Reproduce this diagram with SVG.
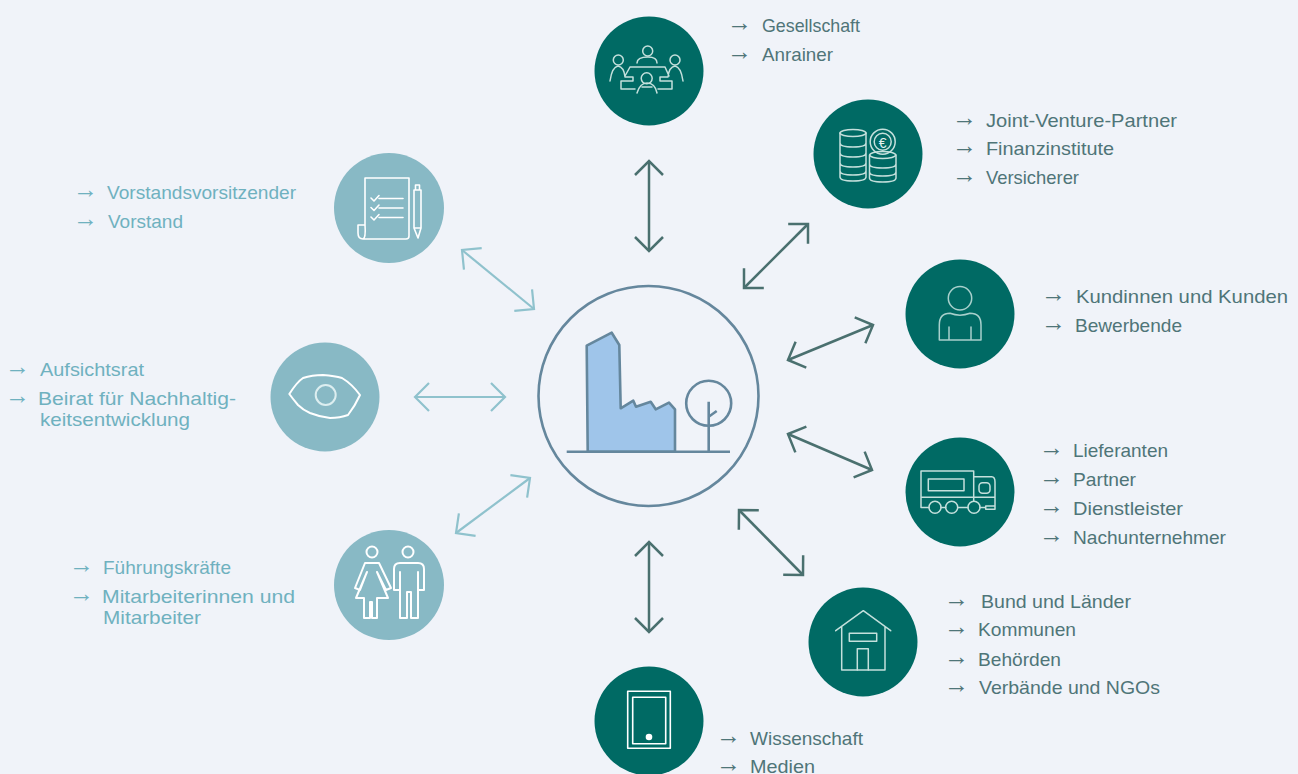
<svg xmlns="http://www.w3.org/2000/svg" width="1298" height="774" viewBox="0 0 1298 774">
<style>
text{font-family:"Liberation Sans",Arial,sans-serif;font-size:18.5px;transform:translateY(.5px)}
text.a{font-size:25px;transform:translateY(-1px)}
.d{fill:#4f7578}.l{fill:#6fb1bf}
.cd{fill:#006a64}.cl{fill:#88b9c5}
.iw,.id{fill:none;stroke-linejoin:round;stroke-linecap:round}
.iw{stroke:#fff;stroke-width:1.6}
.ip{stroke-width:2}
.id{stroke:#c4e0dc;stroke-width:1.5}
.ad{stroke:#4a706f;stroke-width:2.5;fill:none;marker-start:url(#hd);marker-end:url(#hd)}
.al{stroke:#8fc2cd;stroke-width:2.2;fill:none;marker-start:url(#hl);marker-end:url(#hl)}
.f{fill:none;stroke:#65879d;stroke-width:2.6;stroke-linejoin:round}
</style>
<defs>
<marker id="hd" markerUnits="userSpaceOnUse" markerWidth="34" markerHeight="34" viewBox="-17 -17 34 34" refX="0" refY="0" orient="auto-start-reverse"><path d="M-14-14L0 0L-14 14" fill="none" stroke="#4a706f" stroke-width="2.5"/></marker>
<marker id="hl" markerUnits="userSpaceOnUse" markerWidth="34" markerHeight="34" viewBox="-17 -17 34 34" refX="0" refY="0" orient="auto-start-reverse"><path d="M-14-14L0 0L-14 14" fill="none" stroke="#8fc2cd" stroke-width="2.2"/></marker>
</defs>
<rect width="1298" height="774" fill="#f0f3f9"/>
<g id="connectors">
<path class="ad" d="M649 161V251"/>
<path class="ad" d="M649 542V632"/>
<path class="ad" d="M744 288L808 224"/>
<path class="ad" d="M788 360L873 325"/>
<path class="ad" d="M788 434L872 470"/>
<path class="ad" d="M739 510L803 575"/>
<path class="al" d="M456 533L530 478"/>
<path class="al" d="M415 397H505"/>
<path class="al" d="M462 250L534 309"/>
</g>
<g id="center">
<circle cx="648.5" cy="396" r="110" class="f"/>
<path d="M586.7 345.7L611.7 332.7L619.3 345L620.7 408.3L633.3 400.7L636 406.7L650.7 401.7L655.7 409.3L669 402.7L675 409.3V451.7H587.7Z" class="f" style="fill:#9fc5ea"/>
<path d="M566.7 451.7H730M708.7 401.7V451.7M708.7 416.7L716.7 411" class="f"/>
<circle cx="708.7" cy="403.3" r="22.5" class="f"/>
</g>
<g id="node-gesellschaft">
<circle cx="649" cy="71" r="54.5" class="cd"/>
<g class="id">
<circle cx="618.3" cy="60" r="5"/><circle cx="647.7" cy="51" r="5"/><circle cx="675" cy="60" r="5"/><circle cx="646.7" cy="78.3" r="5.5"/>
<path d="M637 63Q637 57 648 57Q657 57 657 63M637 93Q640 83 647 83Q655 83 657 93M642 87H652M610 81Q612 67 618 66Q624 67 625 77H633V81H621V89H635M683 81Q681 67 675 66Q669 67 668 77H660V81H672V89H658M630 67H665M630 67L625 76M665 67L669 76"/>
</g>
<text x="727" y="32" class="a d">→</text><text x="762" y="31" textLength="98" lengthAdjust="spacingAndGlyphs" class="d">Gesellschaft</text>
<text x="727" y="61" class="a d">→</text><text x="762" y="60" textLength="71" lengthAdjust="spacingAndGlyphs" class="d">Anrainer</text>
</g>
<g id="node-finanzen">
<circle cx="868" cy="154" r="54.5" class="cd"/>
<g class="id">
<ellipse cx="853" cy="133" rx="13" ry="3.5"/>
<path d="M840 133V177Q840 181 853 181Q866 181 866 177V133M840 143Q840 147 853 147Q866 147 866 143M840 153Q840 157 853 157Q866 157 866 153M840 163Q840 167 853 167Q866 167 866 163M840 171Q840 175 853 175Q866 175 866 171"/>
<circle cx="882.7" cy="141.7" r="12.5"/><circle cx="882.7" cy="141.7" r="8.5"/>
<ellipse cx="882.7" cy="155" rx="13" ry="3.5"/>
<path d="M869.5 155V178Q869.5 182 882.7 182Q896 182 896 178V155M869.5 164Q869.5 168 882.7 168Q896 168 896 164M869.5 172Q869.5 176 882.7 176Q896 176 896 172"/>
</g>
<text x="882.7" y="147" text-anchor="middle" style="font-size:14px;fill:#e6f2f0">€</text>
<text x="952" y="127" class="a d">→</text><text x="986" y="126" textLength="191" lengthAdjust="spacingAndGlyphs" class="d">Joint-Venture-Partner</text>
<text x="952" y="155" class="a d">→</text><text x="986" y="154" textLength="128" lengthAdjust="spacingAndGlyphs" class="d">Finanzinstitute</text>
<text x="952" y="184" class="a d">→</text><text x="986" y="183" textLength="93" lengthAdjust="spacingAndGlyphs" class="d">Versicherer</text>
</g>
<g id="node-kunden">
<circle cx="960" cy="314" r="54.5" class="cd"/>
<g class="id" style="stroke:#a8d0cc">
<circle cx="960" cy="298.3" r="11.7"/>
<path d="M939.3 340V325Q939.3 313.3 950 313.3Q960 317 970 313.3Q981 313.3 981 325V340ZM949 327V340M971 327V340"/>
</g>
<text x="1041" y="303" class="a d">→</text><text x="1076" y="302" textLength="212" lengthAdjust="spacingAndGlyphs" class="d">Kundinnen und Kunden</text>
<text x="1041" y="332" class="a d">→</text><text x="1075" y="331" textLength="107" lengthAdjust="spacingAndGlyphs" class="d">Bewerbende</text>
</g>
<g id="node-lieferanten">
<circle cx="960" cy="492" r="54.5" class="cd"/>
<g class="id">
<path d="M929 507.5H921V471H973.7V501M921 497.3H995M941 507.5H945.7M958 507.5H968M980 507.5H985.7M973.7 476.7H991.7Q995 476.7 995 482V509.3H985.7V506H995"/>
<rect x="928.3" y="479" width="35.7" height="11.7"/>
<rect x="979" y="482.7" width="11" height="10.6" rx="3.5"/>
<circle cx="935" cy="507.3" r="6"/><circle cx="951.7" cy="507.3" r="6"/><circle cx="974" cy="507.3" r="6"/>
</g>
<text x="1039" y="457" class="a d">→</text><text x="1073" y="456" textLength="95" lengthAdjust="spacingAndGlyphs" class="d">Lieferanten</text>
<text x="1039" y="486" class="a d">→</text><text x="1073" y="485" textLength="63" lengthAdjust="spacingAndGlyphs" class="d">Partner</text>
<text x="1039" y="515" class="a d">→</text><text x="1073" y="514" textLength="110" lengthAdjust="spacingAndGlyphs" class="d">Dienstleister</text>
<text x="1039" y="544" class="a d">→</text><text x="1073" y="543" textLength="153" lengthAdjust="spacingAndGlyphs" class="d">Nachunternehmer</text>
</g>
<g id="node-behoerden">
<circle cx="863" cy="642" r="54.5" class="cd"/>
<g class="id">
<path d="M835.7 630.7L863.3 610.7L890.7 630.7M841.7 626.7V670H885V626.7"/>
<rect x="849.3" y="633.3" width="27.4" height="8"/>
<path d="M857.3 670V648.7H868.3V670"/>
</g>
<text x="944" y="608" class="a d">→</text><text x="981" y="607" textLength="150" lengthAdjust="spacingAndGlyphs" class="d">Bund und Länder</text>
<text x="944" y="636" class="a d">→</text><text x="978" y="635" textLength="98" lengthAdjust="spacingAndGlyphs" class="d">Kommunen</text>
<text x="944" y="666" class="a d">→</text><text x="978" y="665" textLength="83" lengthAdjust="spacingAndGlyphs" class="d">Behörden</text>
<text x="944" y="694" class="a d">→</text><text x="979" y="693" textLength="181" lengthAdjust="spacingAndGlyphs" class="d">Verbände und NGOs</text>
</g>
<g id="node-wissenschaft">
<circle cx="649" cy="721" r="54.5" class="cd"/>
<rect x="627.7" y="691.3" width="42.6" height="57" class="iw"/>
<rect x="632.7" y="697.3" width="33" height="46.4" class="iw"/>
<circle cx="649" cy="737" r="3.3" fill="#fff"/>
<text x="716" y="745" class="a d">→</text><text x="750" y="744" textLength="113" lengthAdjust="spacingAndGlyphs" class="d">Wissenschaft</text>
<text x="716" y="773" class="a d">→</text><text x="750" y="772.5" textLength="65" lengthAdjust="spacingAndGlyphs" class="d">Medien</text>
</g>
<g id="node-fuehrung">
<circle cx="389" cy="585" r="55" class="cl"/>
<g class="iw ip">
<circle cx="372" cy="552" r="5.5"/><circle cx="408" cy="552" r="5.5"/>
<path d="M355 588L365 563H379L391 588L386 590L377 572L388 598H377V618H372V602H370V618H364V598H356L367 572L360 590Z"/>
<path d="M394 590V569Q394 563 400 563H418Q424 563 424 569V590H418V618H411V592H407V618H400V590ZM400 572V590M418 572V590"/>
</g>
<text x="69" y="574" class="a l">→</text><text x="103" y="573" textLength="128" lengthAdjust="spacingAndGlyphs" class="l">Führungskräfte</text>
<text x="69" y="603" class="a l">→</text><text x="102" y="602" textLength="193" lengthAdjust="spacingAndGlyphs" class="l">Mitarbeiterinnen und</text>
<text x="103" y="623" textLength="98" lengthAdjust="spacingAndGlyphs" class="l">Mitarbeiter</text>
</g>
<g id="node-aufsicht">
<circle cx="325" cy="397" r="54.5" class="cl"/>
<g class="iw ip">
<path d="M289.3 394Q297 382 303 378Q312 375 323 375Q335 376 342 378Q352 384 360 395Q355 406 348 415Q340 418 330 418Q320 417 310 413Q303 410 298 405Q293 399 289.3 394Z"/>
<circle cx="325.7" cy="395" r="10" style="stroke:#dceef0"/>
</g>
<text x="5" y="376" class="a l">→</text><text x="40" y="375" textLength="104" lengthAdjust="spacingAndGlyphs" class="l">Aufsichtsrat</text>
<text x="5" y="405" class="a l">→</text><text x="38" y="404" textLength="198" lengthAdjust="spacingAndGlyphs" class="l">Beirat für Nachhaltig-</text>
<text x="40" y="425" textLength="150" lengthAdjust="spacingAndGlyphs" class="l">keitsentwicklung</text>
</g>
<g id="node-vorstand">
<circle cx="389" cy="208" r="55" class="cl"/>
<g class="iw">
<path d="M365 225V178H409V236Q409 239 406 239H363M365 225H358V233Q358 239 363 239Q366 238 365 225M379 198.5H403M379 208H403M379 217.5H403M371 198L374 201L379 195.5M371 207.5L374 210.5L379 205M371 217L374 220L379 214.5"/>
<path d="M414 190H421V228L418 238L414 228ZM414 228H421M415.5 190V185H419.5V190"/>
</g>
<text x="73" y="199" class="a l">→</text><text x="107" y="198" textLength="189" lengthAdjust="spacingAndGlyphs" class="l">Vorstandsvorsitzender</text>
<text x="73" y="228" class="a l">→</text><text x="108" y="227" textLength="75" lengthAdjust="spacingAndGlyphs" class="l">Vorstand</text>
</g>
</svg>
